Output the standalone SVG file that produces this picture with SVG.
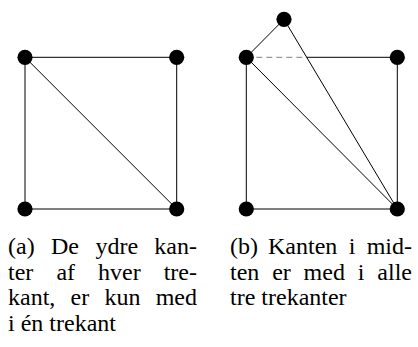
<svg xmlns="http://www.w3.org/2000/svg" width="418" height="347" viewBox="0 0 418 347">
<style>
.e{stroke:#000;stroke-width:1;fill:none}
.d{stroke:#808080;stroke-width:1;stroke-dasharray:6 4;fill:none}
.n{fill:#000}
.t{font-family:"Liberation Serif","Times New Roman",serif;font-size:24px;fill:#000}
</style>
<g id="connectors">
<line class="e" x1="25" y1="57.3" x2="176.7" y2="57.3"/>
<line class="e" x1="176.7" y1="57.3" x2="176.7" y2="209"/>
<line class="e" x1="25" y1="209" x2="176.7" y2="209"/>
<line class="e" x1="25" y1="57.3" x2="25" y2="209"/>
<line class="e" x1="25" y1="57.3" x2="176.7" y2="209"/>
<line class="e" x1="246.3" y1="57.3" x2="284" y2="19.3"/>
<line class="e" x1="284" y1="19.3" x2="397.3" y2="209"/>
<line class="e" x1="246.3" y1="57.3" x2="397.3" y2="209"/>
<line class="d" x1="246.3" y1="57.3" x2="306.7" y2="57.3"/>
<line class="e" x1="306.7" y1="57.3" x2="397.3" y2="57.3"/>
<line class="e" x1="397.3" y1="57.3" x2="397.3" y2="209"/>
<line class="e" x1="246.3" y1="209" x2="397.3" y2="209"/>
<line class="e" x1="246.3" y1="57.3" x2="246.3" y2="209"/>
</g>
<g id="a-tl"><circle class="n" cx="25" cy="57.3" r="7.6"/></g>
<g id="a-tr"><circle class="n" cx="176.7" cy="57.3" r="7.6"/></g>
<g id="a-bl"><circle class="n" cx="25" cy="209" r="7.6"/></g>
<g id="a-br"><circle class="n" cx="176.7" cy="209" r="7.6"/></g>
<g id="b-top"><circle class="n" cx="284" cy="19.3" r="7.6"/></g>
<g id="b-tl"><circle class="n" cx="246.3" cy="57.3" r="7.6"/></g>
<g id="b-tr"><circle class="n" cx="397.3" cy="57.3" r="7.6"/></g>
<g id="b-bl"><circle class="n" cx="246.3" cy="209" r="7.6"/></g>
<g id="b-br"><circle class="n" cx="397.3" cy="209" r="7.6"/></g>
<g id="caption-a" class="t">
<text x="8" y="254">(a)</text>
<text x="51" y="254">De</text>
<text x="95.4" y="254">ydre</text>
<text x="197" y="254" text-anchor="end">kan-</text>
<text x="8" y="279.5">ter</text>
<text x="56.4" y="279.5">af</text>
<text x="98.1" y="279.5">hver</text>
<text x="197" y="279.5" text-anchor="end">tre-</text>
<text x="8" y="305">kant,</text>
<text x="70.6" y="305">er</text>
<text x="104.5" y="305">kun</text>
<text x="197" y="305" text-anchor="end">med</text>
<text x="8" y="330.5">i én trekant</text>
</g>
<g id="caption-b" class="t">
<text x="230" y="254">(b)</text>
<text x="268" y="254">Kanten</text>
<text x="348.7" y="254">i</text>
<text x="412" y="254" text-anchor="end">mid-</text>
<text x="230" y="279.5">ten</text>
<text x="272.2" y="279.5">er</text>
<text x="303.6" y="279.5">med</text>
<text x="357.8" y="279.5">i</text>
<text x="412" y="279.5" text-anchor="end">alle</text>
<text x="230" y="305">tre trekanter</text>
</g>
</svg>
